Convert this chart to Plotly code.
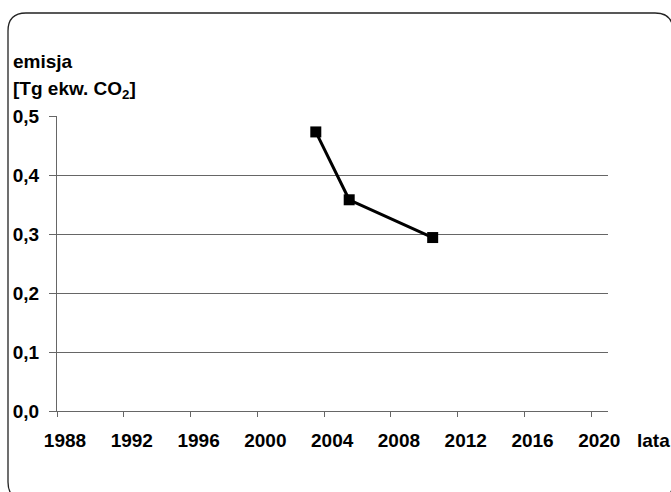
import plotly.graph_objects as go

years = [2003.5, 2005.5, 2010.5]
emission = [0.473, 0.358, 0.294]
x_ticks = [1988, 1992, 1996, 2000, 2004, 2008, 2012, 2016, 2020]
y_ticks = [0.0, 0.1, 0.2, 0.3, 0.4, 0.5]

W, H = 671, 492
L, R, T, B = 57, 63, 116, 81
pw, ph = W - L - R, H - T - B

def px(x):
    return (x - L) / pw

def py(y):
    return (H - B - y) / ph

FONT = "Liberation Sans, Arial, sans-serif"

fig = go.Figure()
fig.add_trace(go.Scatter(
    x=years, y=emission, mode="lines+markers",
    line=dict(color="black", width=3),
    marker=dict(symbol="square", size=11, color="black"),
    showlegend=False,
))

# rounded border
x0, y0, x1, y1, r = 8, 13, 673, 500, 18
path = (f"M {px(x0)},{py(y0 + r)} Q {px(x0)},{py(y0)} {px(x0 + r)},{py(y0)} "
        f"L {px(x1 - r)},{py(y0)} Q {px(x1)},{py(y0)} {px(x1)},{py(y0 + r)} "
        f"L {px(x1)},{py(y1 - r)} Q {px(x1)},{py(y1)} {px(x1 - r)},{py(y1)} "
        f"L {px(x0 + r)},{py(y1)} Q {px(x0)},{py(y1)} {px(x0)},{py(y1 - r)} Z")
fig.add_shape(type="path", path=path, xref="paper", yref="paper",
              line=dict(color="#222", width=1.3), layer="below")

tf = dict(family=FONT, size=19, color="black", weight="bold")
fig.add_annotation(text="emisja", x=px(11), y=py(61), xref="paper", yref="paper",
                   xanchor="left", yanchor="middle", showarrow=False, font=tf)
fig.add_annotation(text="[Tg ekw. CO<sub>2</sub>]", x=px(11), y=py(90), xref="paper", yref="paper",
                   xanchor="left", yanchor="middle", showarrow=False, font=tf)
fig.add_annotation(text="lata", x=px(635), y=py(440), xref="paper", yref="paper",
                   xanchor="left", yanchor="middle", showarrow=False, font=tf)

fig.update_layout(
    width=W, height=H, margin=dict(l=L, r=R, t=T, b=B),
    plot_bgcolor="white", paper_bgcolor="white",
    separators=", ",
    xaxis=dict(range=[1988, 2021], tickvals=x_ticks, ticktext=[str(v) for v in x_ticks],
               showgrid=False, zeroline=False, showline=True, linecolor="#666", linewidth=1,
               ticks="outside", ticklen=5, tickcolor="#666", tickfont=tf,
               ticklabelshift=8, ticklabelstandoff=7),
    yaxis=dict(range=[0, 0.5], tickvals=y_ticks, tickformat=".1f",
               showgrid=True, gridcolor="#666", gridwidth=1, zeroline=False,
               showline=True, linecolor="#666", linewidth=1,
               ticks="outside", ticklen=7, tickcolor="#666", tickfont=tf,
               ticklabelstandoff=6),
)

fig.write_html("out.html", config={"displayModeBar": False},
               post_script="document.body.style.margin='0';document.body.style.overflow='hidden';")
